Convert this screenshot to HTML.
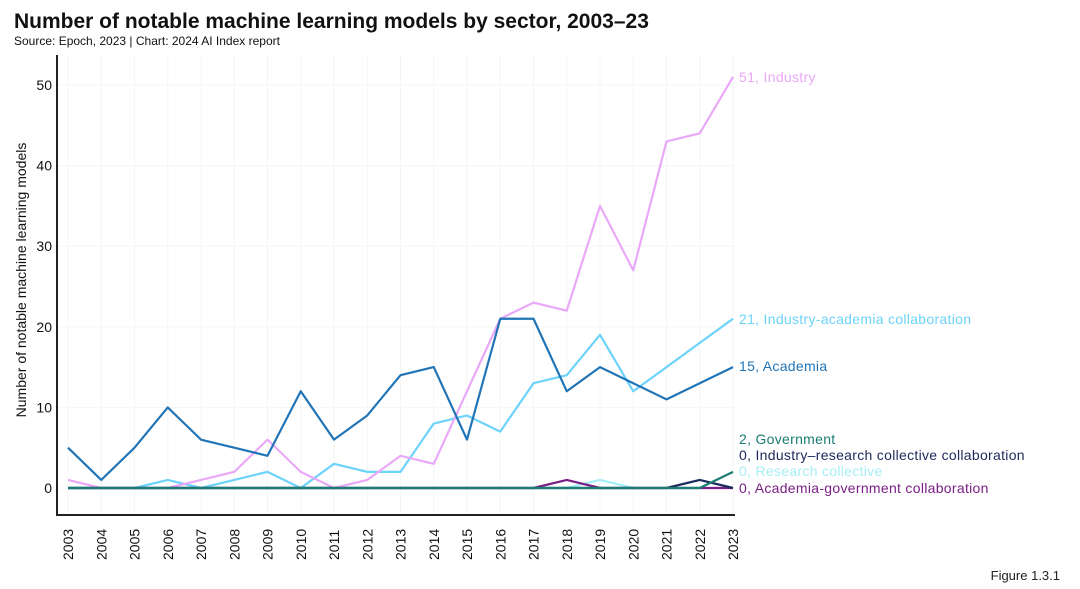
<!DOCTYPE html>
<html><head><meta charset="utf-8"><style>
body{margin:0;background:#fff;font-family:"Liberation Sans",sans-serif;}
#wrap{position:relative;width:1080px;height:589px;overflow:hidden;}
</style></head><body>
<div id="wrap">
<svg id="c" width="1080" height="589"></svg>
</div>
<script>
const years=[2003,2004,2005,2006,2007,2008,2009,2010,2011,2012,2013,2014,2015,2016,2017,2018,2019,2020,2021,2022,2023];
const industry=[1,0,0,0,1,2,6,2,0,1,4,3,12,21,23,22,35,27,43,44,51];
const academia=[5,1,5,10,6,5,4,12,6,9,14,15,6,21,21,12,15,13,11,13,15];
const indAcad=[0,0,0,1,0,1,2,0,3,2,2,8,9,7,13,14,19,12,15,18,21];
const researchCollective=[0,0,0,0,0,0,0,0,0,0,0,0,0,0,0,0,1,0,0,0,0];
const government=[0,0,0,0,0,0,0,0,0,0,0,0,0,0,0,0,0,0,0,0,2];
const indResearch=[0,0,0,0,0,0,0,0,0,0,0,0,0,0,0,0,0,0,0,1,0];
const acadGov=[0,0,0,0,0,0,0,0,0,0,0,0,0,0,0,1,0,0,0,0,0];
const yTicks=[0,10,20,30,40,50];
const NS="http://www.w3.org/2000/svg";
const svg=document.getElementById('c');
const x=y=>68+(y-2003)*33.25;
const yS=v=>488-v*8.06;
function el(t,a,txt){const e=document.createElementNS(NS,t);for(const k in a)e.setAttribute(k,a[k]);if(txt!==undefined)e.textContent=txt;svg.appendChild(e);return e;}
let e;
e=el('text',{x:14,y:28,'font-size':21,'font-weight':'bold',fill:'#111'},'Number of notable machine learning models by sector, 2003–23');

e=el('text',{x:14,y:45,'font-size':12,fill:'#111'},'Source: Epoch, 2023 | Chart: 2024 AI Index report');

e=el('text',{x:1060,y:580,'font-size':13,fill:'#222','text-anchor':'end'},'Figure 1.3.1');

years.forEach(yr=>{e=el('line',{x1:x(yr),x2:x(yr),y1:55,y2:515,stroke:'#f5f5f5'});

e=el('text',{transform:`translate(${x(yr)+5},${560}) rotate(-90)`,'font-size':14,fill:'#111'},yr);
});
yTicks.forEach(v=>{e=el('line',{x1:57,x2:735,y1:yS(v),y2:yS(v),stroke:'#f5f5f5'});

e=el('text',{x:52,y:yS(v)+5,'font-size':14,fill:'#111','text-anchor':'end'},v);
});
e=el('text',{transform:'translate(26,280) rotate(-90)','font-size':14,fill:'#111','text-anchor':'middle'},'Number of notable machine learning models');

e=el('polyline',{points:'57,55 57,515 735,515',fill:'none',stroke:'#222','stroke-width':2});

const series=[
 [researchCollective,'#a6eef6','research-collective','0, Research collective',476],
 [indAcad,'#6dd3fb','industry-academia','21, Industry-academia collaboration',324],
 [industry,'#eaa8f8','industry','51, Industry',82],
 [academia,'#2175b7','academia','15, Academia',371],
 [acadGov,'#7a1f86','academia-government','0, Academia-government collaboration',493],
 [indResearch,'#1c2a5c','industry-research','0, Industry–research collective collaboration',460],
 [government,'#1a7c72','government','2, Government',444]];
series.forEach(s=>{const pts=years.map((yr,i)=>x(yr)+','+yS(s[0][i])).join(' ');
 e=el('polyline',{points:pts,fill:'none',stroke:s[1],'stroke-width':2.2,'stroke-linejoin':'round'});
 
 e=el('text',{x:739,y:s[4],'font-size':14,'letter-spacing':0.3,fill:s[1]},s[3]);
 });
</script>
</body></html>
